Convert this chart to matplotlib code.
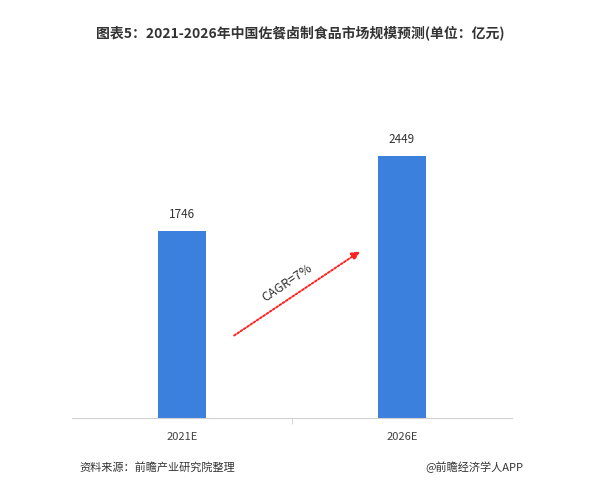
import matplotlib
matplotlib.use("Agg")
import matplotlib.pyplot as plt

plt.rcParams['font.family'] = ['Noto Sans CJK SC', 'DejaVu Sans']

categories = ["2021E", "2026E"]
values = [1746, 2449]
title = "图表5：2021-2026年中国佐餐卤制食品市场规模预测(单位：亿元)"
source = "资料来源：前瞻产业研究院整理"
credit = "@前瞻经济学人APP"
cagr_label = "CAGR=7%"

BAR_COLOR = "#3c80de"


def main():
    fig = plt.figure(figsize=(6, 5), dpi=100)
    ax = fig.add_axes([0.12, 0.164, 0.733, 0.576])

    x = list(range(len(categories)))
    ax.bar(x, values, width=0.22, color=BAR_COLOR, zorder=2)
    for xi, v in zip(x, values):
        ax.text(xi, v + 90, str(v), ha='center', va='bottom',
                fontsize=8.5, color='#333333')

    ax.set_xlim(-0.5, 1.5)
    ax.set_ylim(0, 2690)
    ax.set_xticks(x)
    ax.set_xticklabels(categories, fontsize=8, color='#404040')
    ax.set_xticks([0.5], minor=True)
    ax.tick_params(axis='x', which='major', length=0, pad=10)
    ax.tick_params(axis='x', which='minor', length=4, color='#d0d0d0', direction='out')
    ax.set_yticks([])
    for side in ['top', 'left', 'right']:
        ax.spines[side].set_visible(False)
    ax.spines['bottom'].set_color('#d0d0d0')

    # CAGR arrow between the bars
    ax.annotate('', xy=(0.82, 1570), xytext=(0.227, 756),
                arrowprops=dict(arrowstyle='-|>', color='#ff2020', lw=1.4,
                                linestyle=(0, (1, 1.0)), mutation_scale=12))
    ax.text(0.477, 1265, cagr_label, rotation=34, ha='center', va='center',
            fontsize=9, color='#333333', rotation_mode='anchor')

    fig.text(0.5, 0.934, title, ha='center', va='center', fontsize=10,
             fontweight='bold', color='#333333')
    fig.text(0.133, 0.065, source, ha='left', va='center', fontsize=8,
             color='#333333')
    fig.text(0.872, 0.065, credit, ha='right', va='center', fontsize=8,
             color='#333333')

    fig.savefig("out.png", dpi=100)


if __name__ == "__main__":
    main()
